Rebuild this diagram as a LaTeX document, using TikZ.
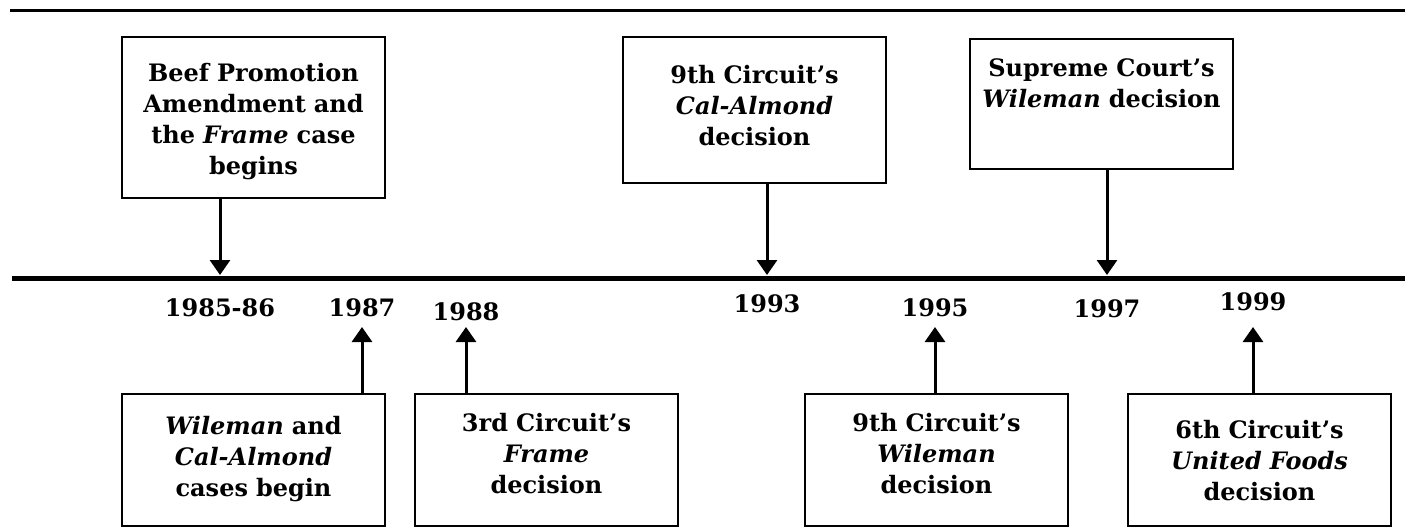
\documentclass[tikz,border=0pt]{standalone}
\usepackage{fontspec}
\setmainfont{DejaVu Serif}
\usetikzlibrary{arrows.meta,positioning}

\begin{document}
\begin{tikzpicture}[
    x=0.5pt, y=-0.5pt,
    evbox/.style={draw=black, line width=1pt, align=center, text width=129pt, inner xsep=1.25pt, inner ysep=0pt, anchor=north, font=\fontsize{12}{15.6}\selectfont\bfseries},
    year/.style={font=\fontsize{12}{15.6}\selectfont\bfseries, inner sep=1pt},
    evarrow/.style={-{Triangle[length=7.5pt, width=10pt]}, line width=1.5pt}
]
    \useasboundingbox (0,0) rectangle (1405,531);

    % Rules
    \coordinate (topL) at (10,10);
    \coordinate (topR) at (1405,10);
    \draw[line width=1.5pt] (topL) -- (topR);
    \coordinate (axisL) at (12,278);
    \coordinate (axisR) at (1405,278);
    \draw[line width=2.5pt] (axisL) -- (axisR);
    \coordinate (axis) at (0,275);
    \coordinate (tip) at (0,327);

    % Years
    \node[year] (y85) at (220,308) {1985-86};
    \node[year] (y87) at (362,308) {1987};
    \node[year] (y88) at (466,312) {1988};
    \node[year] (y93) at (767,304) {1993};
    \node[year] (y95) at (935,308) {1995};
    \node[year] (y97) at (1107,309) {1997};
    \node[year] (y99) at (1253,302) {1999};

    % Events above the line
    \node[evbox, text height=22pt, text depth=58.5pt] (beef) at (253.5,36) {Beef Promotion\\ Amendment and\\ the \textit{Frame} case\\ begins};
    \node[evbox, text height=23pt, text depth=50pt] (calalm) at (754.5,36) {9th Circuit's\\ \textit{Cal-Almond}\\ decision};
    \node[evbox, text height=18.5pt, text depth=46.5pt] (scwile) at (1101.5,38) {Supreme Court's\\ \textit{Wileman} decision};

    % Events below the line
    \node[evbox, text height=20pt, text depth=46pt] (cases) at (253.5,393) {\textit{Wileman} and\\ \textit{Cal-Almond}\\ cases begin};
    \node[evbox, text height=18.5pt, text depth=47.5pt] (frame) at (546.5,393) {3rd Circuit's\\ \textit{Frame}\\ decision};
    \node[evbox, text height=18.5pt, text depth=47.5pt] (wile) at (936.5,393) {9th Circuit's\\ \textit{Wileman}\\ decision};
    \node[evbox, text height=22pt, text depth=44pt] (united) at (1259.5,393) {6th Circuit's\\ \textit{United Foods}\\ decision};

    % Arrows
    \draw[evarrow] (beef.south -| y85) -- (y85 |- axis);
    \draw[evarrow] (calalm.south -| y93) -- (y93 |- axis);
    \draw[evarrow] (scwile.south -| y97) -- (y97 |- axis);
    \draw[evarrow] (cases.north -| y87) -- (y87 |- tip);
    \draw[evarrow] (frame.north -| y88) -- (y88 |- tip);
    \draw[evarrow] (wile.north -| y95) -- (y95 |- tip);
    \draw[evarrow] (united.north -| y99) -- (y99 |- tip);

\end{tikzpicture}
\end{document}
